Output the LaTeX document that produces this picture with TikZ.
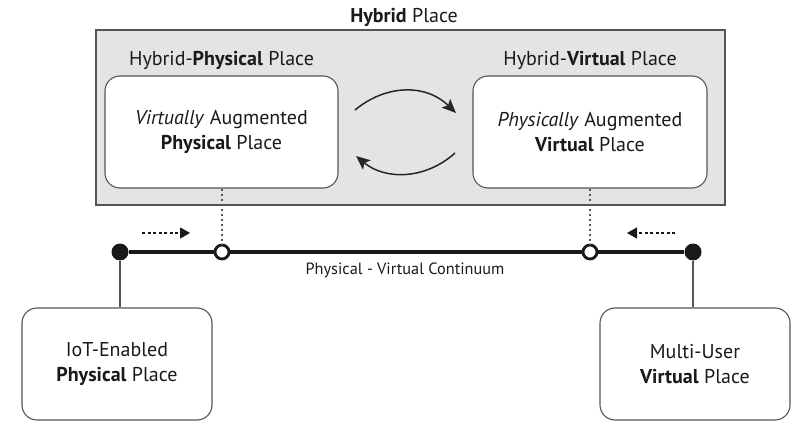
\documentclass[tikz,border=0pt]{standalone}
\usepackage{fontspec}
\setmainfont{PT Sans}
\usetikzlibrary{arrows.meta}

\definecolor{ink}{HTML}{1A1A1A}
\definecolor{edge}{HTML}{555555}
\definecolor{shade}{HTML}{E4E4E4}

\tikzset{
  hybridbox/.style={draw=edge, line width=1.3pt, fill=shade, minimum width=629pt, minimum height=175pt, inner sep=0pt},
  placebox/.style={draw=edge, line width=1.1pt, fill=white, rounded corners=15pt, align=center, text=ink,
    font=\fontsize{20}{25}\selectfont, inner sep=0pt},
  heading/.style={text=ink, font=\fontsize{20}{24}\selectfont, inner sep=0pt},
  small/.style={text=ink, font=\fontsize{16.3}{19}\selectfont, inner sep=0pt},
  enddot/.style={circle, fill=black!90, minimum size=17pt, inner sep=0pt},
  opendot/.style={circle, draw=black!90, line width=2.8pt, fill=white, minimum size=14pt, inner sep=0pt},
  continuum/.style={line width=3.2pt, draw=black!90},
  tie/.style={line width=1.1pt, draw=edge},
  dotline/.style={line width=1.1pt, draw=edge, dash pattern=on 2.5pt off 2.5pt},
  shift arrow/.style={line width=1.3pt, draw=black!90, dash pattern=on 3pt off 2.5pt, -{Triangle[length=10pt,width=11pt]}},
  cycle arrow/.style={line width=1.5pt, draw=black!85, -{Stealth[length=14pt,width=12pt,inset=3pt]}}
}

\begin{document}
\begin{tikzpicture}[x=1pt,y=-1pt]
\useasboundingbox (0,0) rectangle (792,422);

% the hybrid place region
\node[hybridbox] (hyb) at (410.5,117.5) {};
\node[heading] (hybtitle) at (404,17) {\textbf{Hybrid} Place};

% hybrid places inside the region
\node[placebox, minimum width=233pt, minimum height=112pt] (hp) at (221.5,132)
  {\textit{Virtually} Augmented\\\textbf{Physical} Place};
\node[placebox, minimum width=234pt, minimum height=112pt] (hv) at (590,132)
  {\textit{Physically} Augmented\\\textbf{Virtual} Place};
\node[heading] (hptitle) at (221.5,60) {Hybrid-\textbf{Physical} Place};
\node[heading] (hvtitle) at (590,60) {Hybrid-\textbf{Virtual} Place};

% exchange between the two hybrid places
\coordinate (t1) at (355,110);
\coordinate (t2) at (456,113);
\coordinate (b1) at (455,153);
\coordinate (b2) at (356,156);
\draw[cycle arrow] (t1) .. controls (385,85) and (425,83) .. (t2);
\draw[cycle arrow] (b1) .. controls (425,180) and (385,180) .. (b2);

% pure places at either end
\node[placebox, minimum width=190pt, minimum height=112pt] (iot) at (117,364)
  {IoT-Enabled\\\textbf{Physical} Place};
\node[placebox, minimum width=190pt, minimum height=112pt] (mu) at (695,364)
  {Multi-User\\\textbf{Virtual} Place};

% the continuum
\node[enddot] (pend) at (120,252) {};
\node[enddot] (vend) at (693,252) {};
\node[opendot] (pmark) at (222,252) {};
\node[opendot] (vmark) at (590,252) {};
\draw[continuum] (pend) -- (pmark) -- (vmark) -- (vend);
\node[small] (ctitle) at (405,270) {Physical - Virtual Continuum};

% links to the boxes
\draw[dotline] (hp.south -| pmark) -- (pmark);
\draw[dotline] (hv) -- (vmark);
\draw[tie] (pend) -- (pend |- iot.north);
\draw[tie] (vend) -- (vend |- mu.north);

% direction of drift along the continuum
\coordinate (ls) at (142,233);
\coordinate (le) at (190,233);
\coordinate (rs) at (675,233);
\coordinate (re) at (627,233);
\draw[shift arrow] (ls) -- (le);
\draw[shift arrow] (rs) -- (re);
\end{tikzpicture}
\end{document}
